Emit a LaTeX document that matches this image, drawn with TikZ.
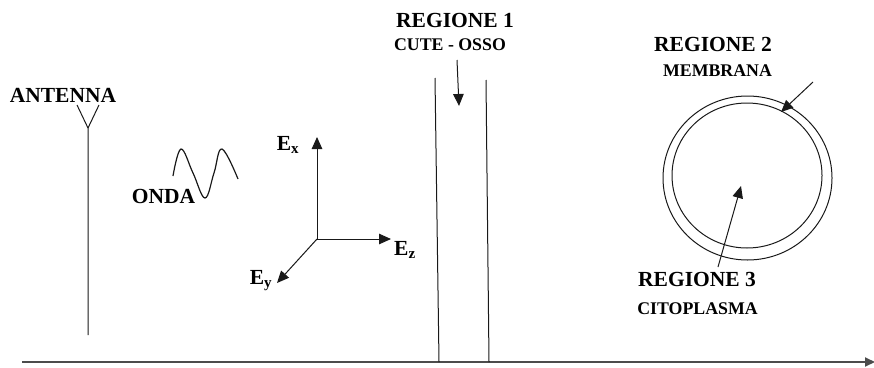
\documentclass[tikz,border=0pt]{standalone}
\usepackage{fontspec}
\setmainfont{Liberation Serif}
\usetikzlibrary{arrows.meta}

\tikzset{
  big/.style={font=\fontsize{21.5}{21.5}\selectfont\bfseries, inner sep=0pt},
  small/.style={font=\fontsize{17.8}{17.8}\selectfont\bfseries, inner sep=0pt},
  thin/.style={line width=1pt, black!90},
  arr/.style={thin, -{Triangle[length=12pt,width=10.5pt]}},
  axis/.style={line width=1.8pt, black!70, -{Triangle[length=10pt,width=9pt]}}
}

\begin{document}
\begin{tikzpicture}[x=1pt, y=-1pt]
\useasboundingbox (0,0) rectangle (874,367);

% ground axis
\coordinate (axL) at (22,362);
\coordinate (axR) at (875,362);
\draw[axis] (axL) -- (axR);

% antenna
\node[big] (antenna) at (63,95) {ANTENNA};
\coordinate (antTop) at (88,128);
\coordinate (antBot) at (88,335);
\coordinate (forkL) at (77,105);
\coordinate (forkR) at (99,105);
\draw[thin] (antBot) -- (antTop) -- (forkL);
\draw[thin] (antTop) -- (forkR);

% wave
\node[big] (onda) at (163.5,196.5) {ONDA};
\draw[thin, line width=1.2pt] plot[smooth, tension=0.65] coordinates
  {(173,176) (181,149) (193,173) (205,198) (214,173) (222,149) (238,179)};

% field axes
\coordinate (orig) at (317,239);
\coordinate (tipX) at (317,137);
\coordinate (tipZ) at (391,239);
\coordinate (tipY) at (277,283);
\draw[arr] (orig) -- (tipX);
\draw[arr] (orig) -- (tipZ);
\draw[arr] (orig) -- (tipY);
\node[big] (ex) at (288,145) {E\textsubscript{x}};
\node[big] (ez) at (405,250) {E\textsubscript{z}};
\node[big] (ey) at (261,281) {E\textsubscript{y}};

% region 1: skin - bone layer
\node[big] (reg1) at (455,20) {REGIONE 1};
\node[small] (cute) at (450,45) {CUTE - OSSO};
\coordinate (l1t) at (435,78);
\coordinate (l1b) at (439,362);
\coordinate (l2t) at (486,80);
\coordinate (l2b) at (489,362);
\draw[thin] (l1t) -- (l1b);
\draw[thin] (l2t) -- (l2b);
\coordinate (a1s) at (457,60);
\coordinate (a1e) at (459,106);
\draw[arr] (a1s) -- (a1e);

% cell: membrane and cytoplasm
\node[big] (reg2) at (713,44.5) {REGIONE 2};
\node[small] (membr) at (717.5,71) {MEMBRANA};
\draw[thin] (747.5,178) ellipse [x radius=84.5, y radius=82];
\draw[thin] (747,175.5) ellipse [x radius=75, y radius=72.5];
\coordinate (a2s) at (813,82);
\coordinate (a2e) at (781,112);
\draw[arr] (a2s) -- (a2e);

\node[big] (reg3) at (697,279.5) {REGIONE 3};
\node[small] (cito) at (697.5,308.5) {CITOPLASMA};
\coordinate (a3s) at (718,267);
\coordinate (a3e) at (741,186);
\draw[arr] (a3s) -- (a3e);
\end{tikzpicture}
\end{document}
